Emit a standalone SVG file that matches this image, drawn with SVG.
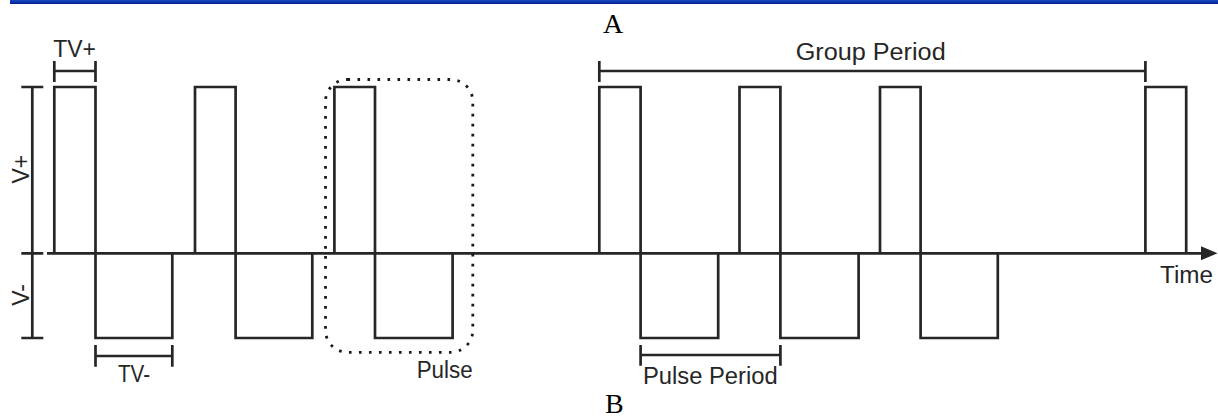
<svg xmlns="http://www.w3.org/2000/svg" width="1218" height="417" viewBox="0 0 1218 417">
<defs>
<linearGradient id="bar" x1="0" y1="0" x2="0" y2="1">
<stop offset="0" stop-color="#1a4ac4"/>
<stop offset="1" stop-color="#00208e"/>
</linearGradient>
</defs>
<style>
.ln{fill:none;stroke:#262626;stroke-width:2.7;stroke-linecap:butt;stroke-linejoin:miter}
.lbl{font-family:"Liberation Sans",Arial,sans-serif;font-size:23px;fill:#262626}
.ser{font-family:"Liberation Serif","Times New Roman",serif;font-size:28px;fill:#000}
.dot{fill:none;stroke:#1a1a1a;stroke-width:2.8;stroke-dasharray:2.6 7.4}
</style>
<rect id="topbar" x="10" y="0" width="1208" height="4" fill="url(#bar)"/>
<g id="connectors">
<path id="time-axis" class="ln" d="M47 253.3 H1203"/>
<polygon id="arrowhead" points="1201,246.3 1217.5,253.3 1201,260.3" fill="#262626"/>
<g id="pulses" class="ln">
<path d="M54.3 253.3 V87 H95.5 V253.3 M95.5 253.3 V338 H172.3 V253.3"/>
<path d="M195 253.3 V87 H235.6 V253.3 M235.6 253.3 V338 H312.3 V253.3"/>
<path d="M334.4 253.3 V87 H375 V253.3 M375 253.3 V338 H452.6 V253.3"/>
<path d="M599.3 253.3 V87 H640.6 V253.3 M640.6 253.3 V338 H718.2 V253.3"/>
<path d="M739.5 253.3 V87 H780.4 V253.3 M780.4 253.3 V338 H858.6 V253.3"/>
<path d="M880 253.3 V87 H920.6 V253.3 M920.6 253.3 V338 H997.8 V253.3"/>
<path d="M1145.4 253.3 V87 H1186.2 V253.3"/>
</g>
<g id="vaxis" class="ln">
<path d="M32.3 87 V338"/>
<path d="M21.3 87 H43.3 M21.3 253.3 H43.3 M21.3 338 H43.3"/>
</g>
<g id="tvplus-bracket" class="ln"><path d="M54.3 71 H95.5 M54.3 61 V82 M95.5 61 V82"/></g>
<g id="tvminus-bracket" class="ln"><path d="M95.5 356 H172.3 M95.5 345 V366.7 M172.3 345 V366.7"/></g>
<g id="group-bracket" class="ln"><path d="M599.3 71 H1145.4 M599.3 61 V82 M1145.4 61 V82"/></g>
<g id="pulseperiod-bracket" class="ln"><path d="M640.6 355 H780.4 M640.6 345 V365.7 M780.4 345 V365.7"/></g>
</g>
<g id="pulse-box">
<rect class="dot" x="325.5" y="79.5" width="147.3" height="272.8" rx="22" ry="22"/>
</g>
<g id="label-A"><text class="ser" x="603" y="33.3">A</text></g>
<g id="label-B"><text class="ser" x="605" y="413.3">B</text></g>
<g id="label-tvplus"><text class="lbl" x="53.3" y="57.3" textLength="42.7" lengthAdjust="spacingAndGlyphs">TV+</text></g>
<g id="label-tvminus"><text class="lbl" x="118" y="381.7" textLength="32" lengthAdjust="spacingAndGlyphs">TV-</text></g>
<g id="label-vplus"><text class="lbl" transform="translate(29.3 169.2) rotate(-90)" text-anchor="middle">V+</text></g>
<g id="label-vminus"><text class="lbl" transform="translate(29.3 295) rotate(-90)" text-anchor="middle">V-</text></g>
<g id="label-group"><text class="lbl" x="795.7" y="60" textLength="150" lengthAdjust="spacingAndGlyphs">Group Period</text></g>
<g id="label-pulse"><text class="lbl" x="416.7" y="378.3" textLength="56" lengthAdjust="spacingAndGlyphs">Pulse</text></g>
<g id="label-pulseperiod"><text class="lbl" x="643" y="384" textLength="134.7" lengthAdjust="spacingAndGlyphs">Pulse Period</text></g>
<g id="label-time"><text class="lbl" x="1160" y="283.3" textLength="53" lengthAdjust="spacingAndGlyphs">Time</text></g>
</svg>
